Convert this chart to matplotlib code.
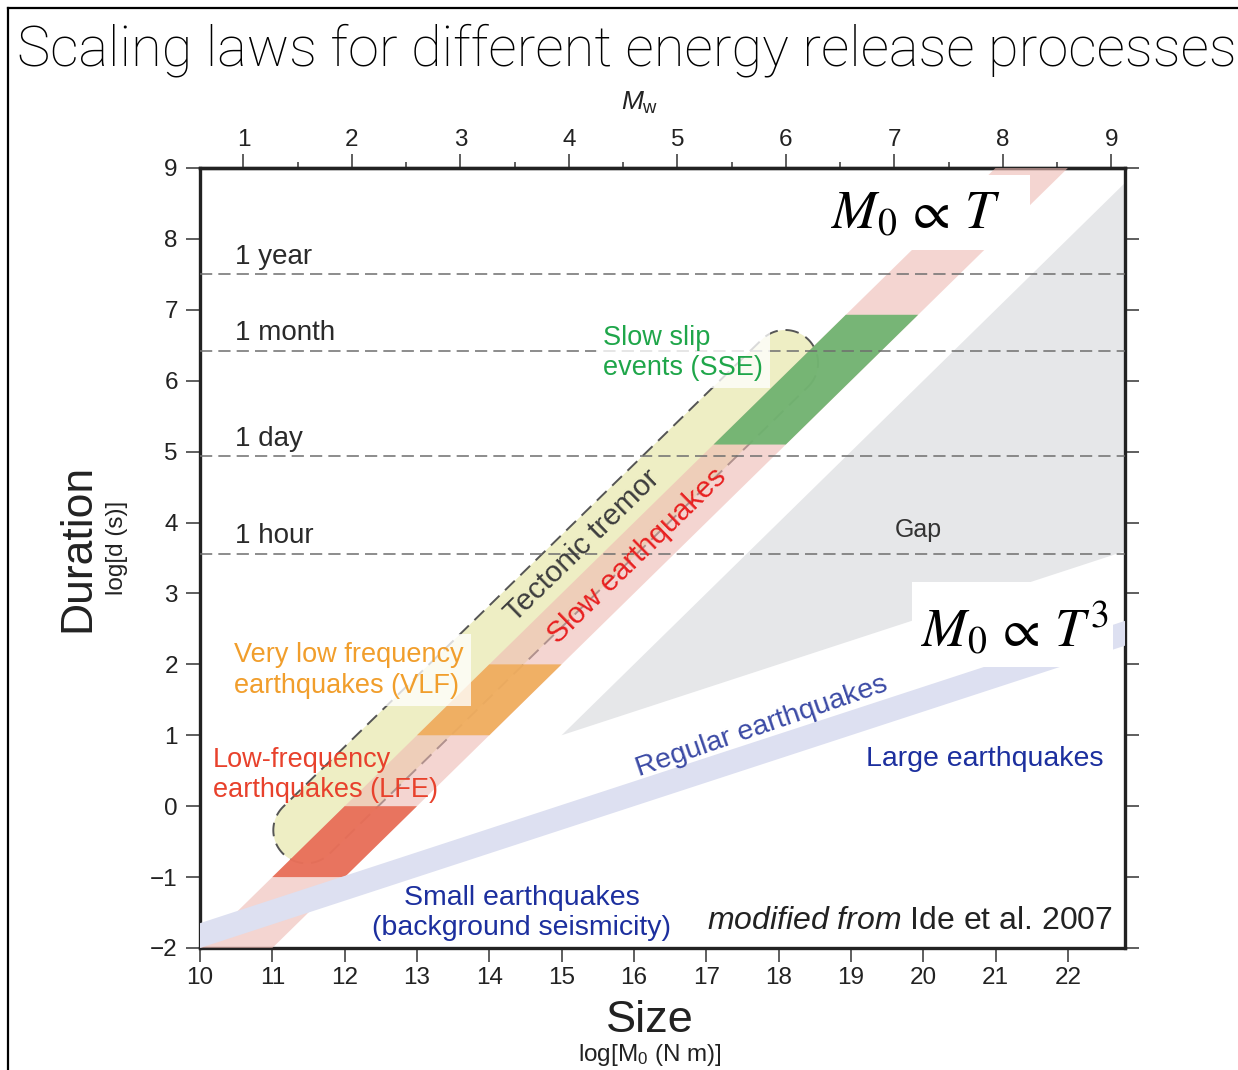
"""
Scaling laws for different energy release processes (after Ide et al. 2007).
Duration vs seismic moment, slow earthquakes (M0 ~ T) vs regular earthquakes (M0 ~ T^3).
"""
import numpy as np
import matplotlib.pyplot as plt
from matplotlib.patches import Polygon, Rectangle
from matplotlib.lines import Line2D

plt.rcParams['font.family'] = ['Liberation Sans', 'DejaVu Sans']
plt.rcParams['mathtext.fontset'] = 'custom'
plt.rcParams['mathtext.rm'] = 'Liberation Sans'
plt.rcParams['mathtext.it'] = 'Liberation Sans:italic'

# axes
size_lim = [10, 22.79]
dur_lim = [-2, 9]
size_ticks = np.arange(10, 23)
dur_ticks = np.arange(-2, 10)
mw_ticks = np.arange(1, 10)
mw_minor = np.arange(1.5, 9, 1)

# reference durations
time_labels = ['1 year', '1 month', '1 day', '1 hour']
time_seconds = [3.156e7, 2.63e6, 86400, 3600]

# slow earthquake band (M0 ~ T): logM0 - log d between these
slow_offsets = [12, 13]
# slow event types along the band: log d range
block_names = ['LFE', 'VLF', 'SSE']
block_dmin = [-1.0, 1.0, 5.1]
block_dmax = [0.0, 2.0, 6.93]
block_colors = ['#e86c55', '#f0ad5c', '#6cb36e']

# tectonic tremor capsule (centre line ends, log M0 / log d)
tremor_start = (11.47, -0.34)
tremor_end = (18.09, 6.25)
tremor_radius_px = 33

# gap region, bounded by logM0 - log d = 14 and a T^3 line through (15, 1)
gap_corner = (15.0, 1.0)
gap_offset = 14

# regular earthquakes band (M0 ~ T^3): log d at log M0 = 10
regular_lo = -2.0
regular_hi = -1.65

# white boxes behind the scaling-law labels (log M0 range, log d range)
box_T1 = ([18.0, 21.47], [7.85, 8.9])
box_T3 = ([19.84, 22.62], [1.96, 3.16])

fig = plt.figure(figsize=(12.38, 10.70), dpi=100)
ax = fig.add_axes([200 / 1238, 1 - 948 / 1070, 925 / 1238, 780 / 1070])
ax.set_xlim(size_lim)
ax.set_ylim(dur_lim)

# gap
xg = np.array([gap_corner[0], 25.0, 25.0])
yg = np.array([gap_corner[1], 25.0 - gap_offset, gap_corner[1] + (25.0 - gap_corner[0]) / 3])
ax.add_patch(Polygon(np.column_stack([xg, yg]), closed=True, fc='#e6e7e9', ec='none', zorder=1))

# tremor capsule, built in pixel space so the ends stay round
p0 = ax.transData.transform(tremor_start)
p1 = ax.transData.transform(tremor_end)
ang = np.arctan2(p1[1] - p0[1], p1[0] - p0[0])
t1 = np.linspace(ang - np.pi / 2, ang + np.pi / 2, 60)
t0 = np.linspace(ang + np.pi / 2, ang + 3 * np.pi / 2, 60)
cap = np.vstack([p1 + tremor_radius_px * np.column_stack([np.cos(t1), np.sin(t1)]),
                 p0 + tremor_radius_px * np.column_stack([np.cos(t0), np.sin(t0)])])
cap = ax.transData.inverted().transform(cap)
ax.add_patch(Polygon(cap, closed=True, fc='#eeeec4', ec='none', zorder=1.5))
ax.add_patch(Polygon(cap, closed=True, fill=False, ec='#555555', lw=1.4,
                     ls=(0, (7, 4)), zorder=2))

# slow earthquake band
yb = np.array([-4.0, 11.0])
band = np.column_stack([np.r_[yb + slow_offsets[0], yb[::-1] + slow_offsets[1]],
                        np.r_[yb, yb[::-1]]])
ax.add_patch(Polygon(band, closed=True, fc='#eebab3', alpha=0.6, ec='none', zorder=3))

for dmin, dmax, col in zip(block_dmin, block_dmax, block_colors):
    blk = [(dmin + slow_offsets[0], dmin), (dmin + slow_offsets[1], dmin),
           (dmax + slow_offsets[1], dmax), (dmax + slow_offsets[0], dmax)]
    ax.add_patch(Polygon(blk, closed=True, fc=col, ec='none', alpha=0.92, zorder=4))

# regular earthquakes band
xr = np.array([8.0, 25.0])
reg = np.column_stack([np.r_[xr, xr[::-1]],
                       np.r_[regular_lo + (xr - 10) / 3, regular_hi + (xr[::-1] - 10) / 3]])
ax.add_patch(Polygon(reg, closed=True, fc='#dde0f1', ec='none', zorder=4.5))

# white boxes for the scaling law labels
for bx, by in (box_T1, box_T3):
    ax.add_patch(Rectangle((bx[0], by[0]), bx[1] - bx[0], by[1] - by[0],
                           fc='white', ec='none', zorder=5))

# reference durations
for lab, sec in zip(time_labels, time_seconds):
    yl = np.log10(sec)
    ax.axhline(yl, color='#6e6e6e', lw=1.1, ls=(0, (8, 4)), zorder=6)
    ax.text(10.48, yl + 0.15, lab, fontsize=20, color='#2a2a2a', va='baseline', zorder=7)

# labels
ax.text(19.93, 3.9, 'Gap', fontsize=18, color='#333333', ha='center', va='center', zorder=7)
ax.text(19.9, 8.35, r'$M_0\,\propto\,T$', math_fontfamily='stix', fontsize=39,
        ha='center', va='center', zorder=7)
ax.text(21.26, 2.5, r'$M_0\,\propto\,T^3$', math_fontfamily='stix', fontsize=39,
        ha='center', va='center', zorder=7)

box = dict(facecolor='white', alpha=0.78, edgecolor='none', pad=5)
ax.text(15.57, 6.39, 'Slow slip\nevents (SSE)', fontsize=19.5, color='#1fa64a',
        ha='left', va='center', linespacing=1.22, bbox=box, zorder=8)
ax.text(10.47, 1.92, 'Very low frequency\nearthquakes (VLF)', fontsize=19.5, color='#f19e2c',
        ha='left', va='center', linespacing=1.25, bbox=box, zorder=8)
ax.text(10.18, 0.44, 'Low-frequency\nearthquakes (LFE)', fontsize=19.5, color='#e8412c',
        ha='left', va='center', linespacing=1.22, zorder=8)

ax.text(15.29, 3.67, 'Tectonic tremor', fontsize=21.5, color='#3d3d3d', rotation=44.4,
        rotation_mode='anchor', ha='center', va='center', zorder=8)
ax.text(16.04, 3.53, 'Slow earthquakes', fontsize=21.5, color='#e82020', rotation=44.4,
        rotation_mode='anchor', ha='center', va='center', zorder=8)
ax.text(17.77, 1.12, 'Regular earthquakes', fontsize=20.5, color='#3b4aa5', rotation=19,
        rotation_mode='anchor', ha='center', va='center', zorder=8)
ax.text(19.21, 0.67, 'Large earthquakes', fontsize=20.5, color='#1c2f9e',
        ha='left', va='center', zorder=8)
ax.text(14.45, -1.5, 'Small earthquakes\n(background seismicity)', fontsize=20.5,
        color='#1c2f9e', ha='center', va='center', multialignment='center',
        linespacing=1.2, zorder=8)
ax.text(22.62, -1.62, r'$\mathit{modified\ from}$ Ide et al. 2007', fontsize=23,
        color='#222222', ha='right', va='center', zorder=8)

# axes styling
ax.set_xticks(size_ticks)
ax.set_yticks(dur_ticks)
ax.set_yticklabels([str(v).replace('-', '\u2212') for v in dur_ticks])
ax.tick_params(axis='both', which='major', direction='out', length=10, width=1.1,
               color='#333333', labelsize=17.5, labelcolor='#222222')
ax.tick_params(axis='x', pad=4)
ax.tick_params(axis='y', pad=6, right=True)
for sp in ax.spines.values():
    sp.set_linewidth(2.4)
    sp.set_color('#222222')


def m0_to_mw(x):
    return (x - 9.1) * 2 / 3


def mw_to_m0(m):
    return m * 1.5 + 9.1


secax = ax.secondary_xaxis('top', functions=(m0_to_mw, mw_to_m0))
secax.set_xticks(mw_ticks)
secax.set_xticks(mw_minor, minor=True)
secax.tick_params(which='major', direction='out', length=10, width=1.1, color='#333333',
                  labelsize=17.5, labelcolor='#222222', pad=2)
secax.tick_params(which='minor', direction='out', length=4, width=1.1, color='#333333')
secax.spines['top'].set_linewidth(2.4)
secax.spines['top'].set_color('#222222')

# figure texts
fig.text(17 / 1238, 1 - 50 / 1070, 'Scaling laws for different energy release processes',
         fontsize=40.3, ha='left', va='center', color='black',
         family=['Roboto', 'Liberation Sans'], weight='light')
fig.text(640 / 1238, 1 - 103 / 1070, r'$M_\mathrm{w}$', fontsize=19, ha='center',
         va='center', color='#222222')
fig.text(78 / 1238, 1 - 548 / 1070, 'Duration', fontsize=32, rotation=90, ha='center',
         va='center', color='#222222')
fig.text(117 / 1238, 1 - 548 / 1070, 'log[d (s)]', fontsize=17.5, rotation=90, ha='center',
         va='center', color='#222222')
fig.text(650 / 1238, 1 - 1020 / 1070, 'Size', fontsize=32.5, ha='center', va='center',
         color='#222222')
fig.text(650 / 1238, 1 - 1055 / 1070, r'log[M$_0$ (N m)]', fontsize=17.5, ha='center',
         va='center', color='#222222')

# outer frame
fig.add_artist(Line2D([8 / 1238, 1], [1 - 8 / 1070, 1 - 8 / 1070], transform=fig.transFigure,
                      color='black', lw=1.6))
fig.add_artist(Line2D([8 / 1238, 8 / 1238], [0, 1 - 8 / 1070], transform=fig.transFigure,
                      color='black', lw=1.6))

fig.savefig('out.png', dpi=100)
